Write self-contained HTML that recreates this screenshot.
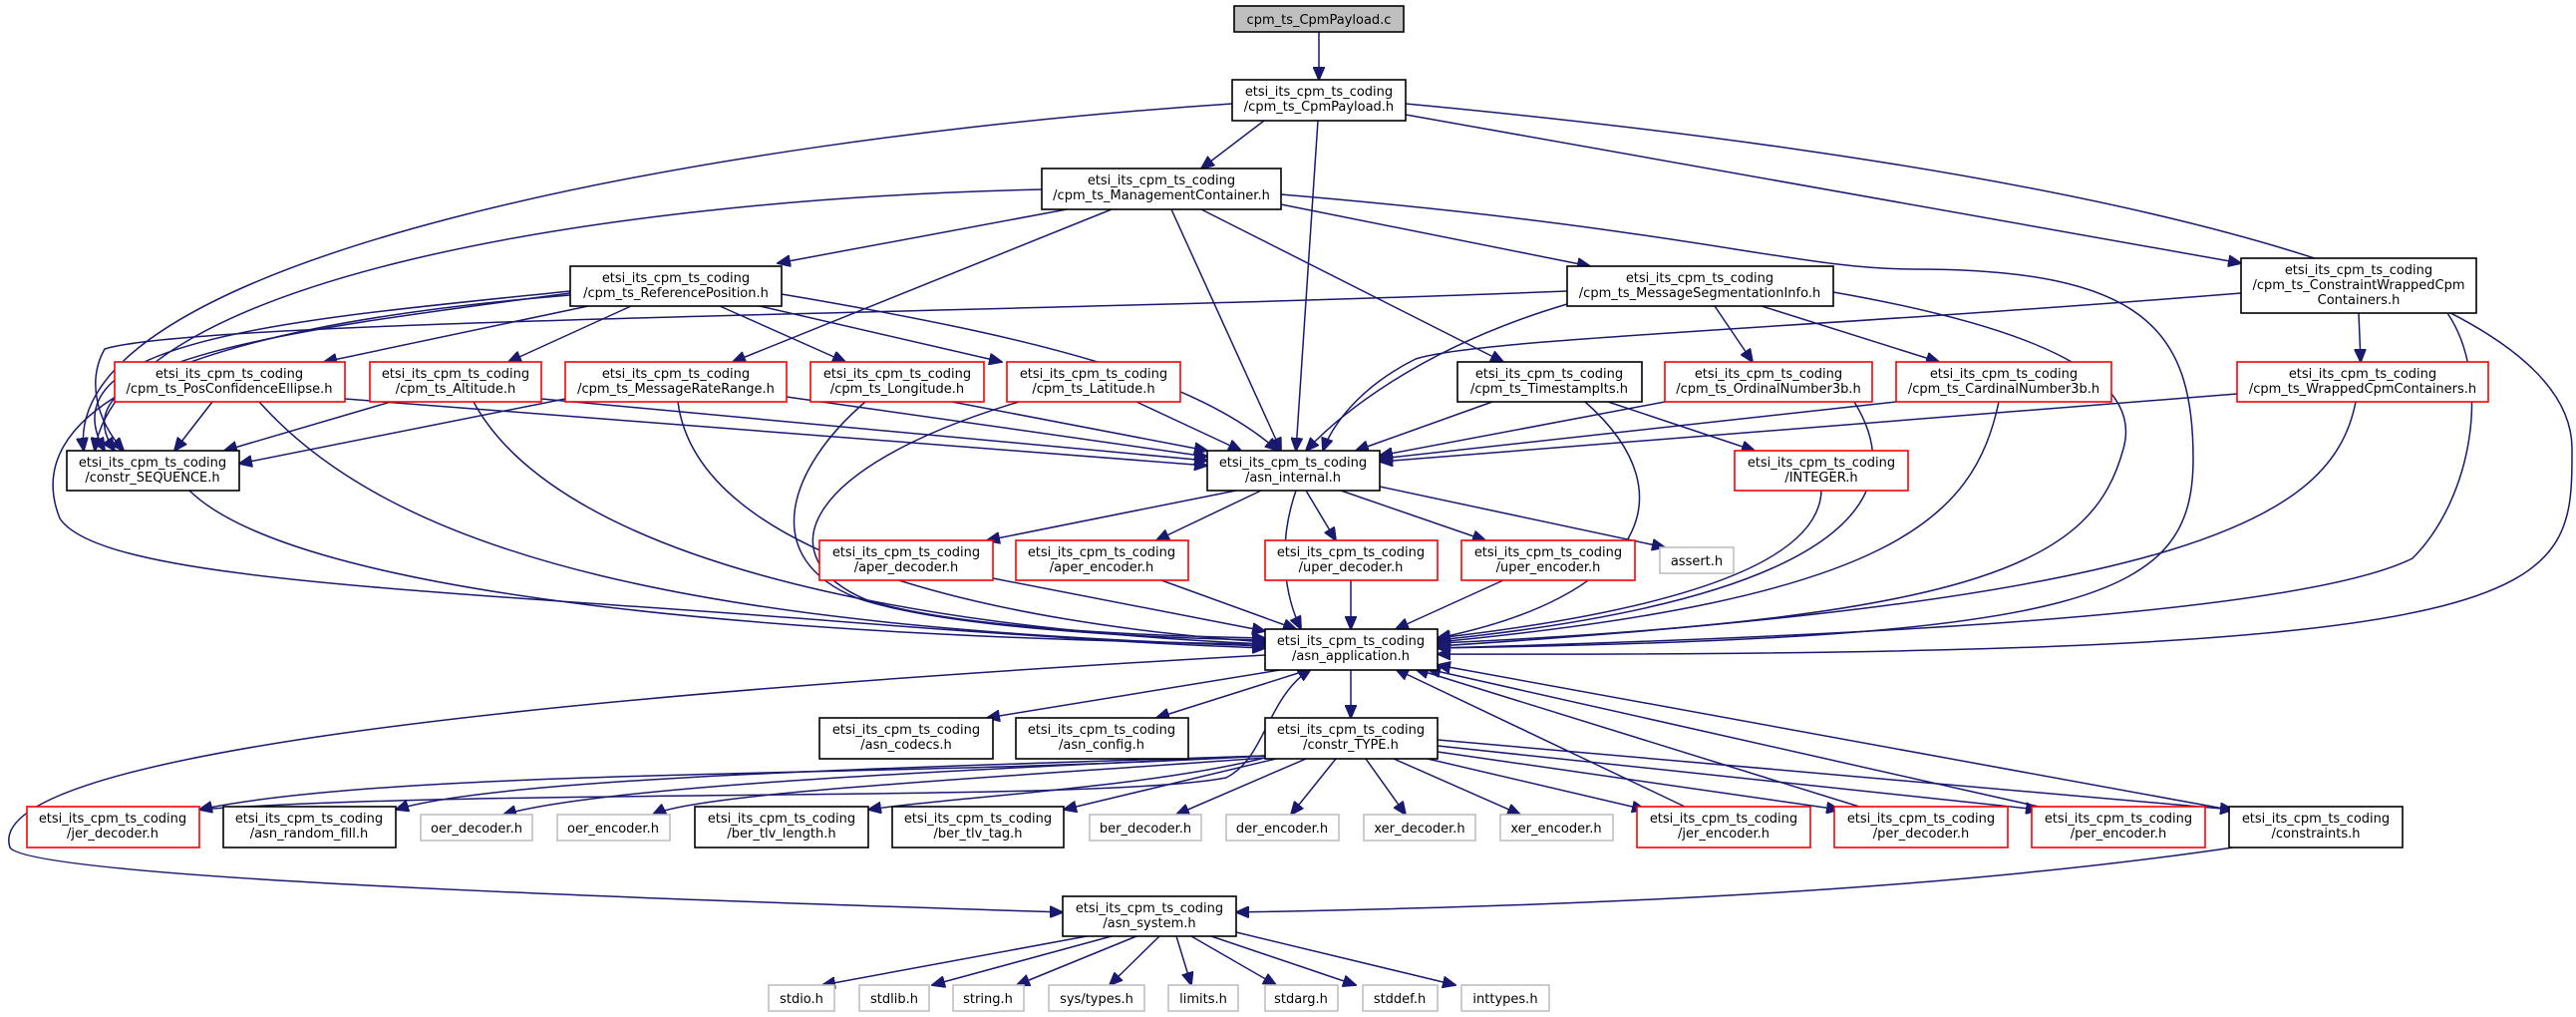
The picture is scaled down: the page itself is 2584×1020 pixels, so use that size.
<!DOCTYPE html>
<html><head><meta charset="utf-8"><style>
html,body{margin:0;padding:0;background:#fff;}
svg{display:block;}
text{font-family:"DejaVu Sans","Liberation Sans",sans-serif;font-size:13px;fill:#000;text-anchor:middle;}
.e{fill:none;stroke:#191970;stroke-width:1.5;marker-end:url(#a);}
.n{fill:#fff;stroke:#000;stroke-width:1.6;}
.r{fill:#fff;stroke:#ff0000;stroke-width:1.6;}
.g{fill:#fff;stroke:#bfbfbf;stroke-width:1.6;}
</style></head><body>
<svg width="2584" height="1020" viewBox="0 0 2584 1020" xmlns="http://www.w3.org/2000/svg">
<defs><marker id="a" markerUnits="userSpaceOnUse" markerWidth="14" markerHeight="12" refX="13" refY="6" orient="auto"><path d="M0,0 L14,6 L0,12 Z" fill="#191970" stroke="#191970"/></marker></defs>
<g>
<path class="e" d="M1323,32 L1323,80"/>
<path class="e" d="M1236,104 C700,140 60,260 84,452"/>
<path class="e" d="M1410,104 C1900,150 2580,250 2580,450 C2580,600 2580,660 1442,656"/>
<path class="e" d="M1410,115 L2248,264"/>
<path class="e" d="M1322,121 L1300,452"/>
<path class="e" d="M1268,121 L1205,169"/>
<path class="e" d="M1045,190 C600,200 120,280 95,452"/>
<path class="e" d="M1070,210 L780,264"/>
<path class="e" d="M1115,210 L735,363"/>
<path class="e" d="M1175,210 L1285,452"/>
<path class="e" d="M1205,210 L1508,363"/>
<path class="e" d="M1285,205 L1595,267"/>
<path class="e" d="M1285,195 C1700,230 1800,270 1920,270 C2150,270 2200,330 2200,460 C2200,600 2100,640 1442,650"/>
<path class="e" d="M572,292 C300,320 40,340 105,452"/>
<path class="e" d="M572,294 C300,330 50,360 115,452"/>
<path class="e" d="M572,296 C150,330 20,420 60,520 C100,580 400,590 800,620 C1000,636 1150,646 1269,650"/>
<path class="e" d="M590,307 L325,363"/>
<path class="e" d="M633,307 L510,363"/>
<path class="e" d="M722,307 L848,363"/>
<path class="e" d="M762,307 L1005,363"/>
<path class="e" d="M784,295 C1050,340 1200,380 1282,452"/>
<path class="e" d="M1572,292 C1000,315 200,320 105,350 C88,380 95,420 124,452"/>
<path class="e" d="M1572,305 C1420,350 1340,420 1310,452"/>
<path class="e" d="M1720,307 L1758,363"/>
<path class="e" d="M1767,307 L1945,363"/>
<path class="e" d="M1839,293 C2050,330 2150,380 2130,450 C2100,560 2000,620 1442,645"/>
<path class="e" d="M2248,294 C1800,330 1480,340 1420,360 C1360,390 1335,430 1327,452"/>
<path class="e" d="M2366,314 L2368,363"/>
<path class="e" d="M2455,314 C2500,380 2480,500 2420,560 C2300,620 1800,640 1442,650"/>
<path class="e" d="M213,403 L175,452"/>
<path class="e" d="M392,403 L225,452"/>
<path class="e" d="M567,400 L240,465"/>
<path class="e" d="M346,400 L1211,467"/>
<path class="e" d="M543,400 L1211,462"/>
<path class="e" d="M789,398 L1211,458"/>
<path class="e" d="M955,403 L1211,452"/>
<path class="e" d="M1140,403 L1245,452"/>
<path class="e" d="M260,403 C400,560 700,630 1269,648"/>
<path class="e" d="M475,403 C560,560 900,630 1269,646"/>
<path class="e" d="M680,403 C700,560 1000,625 1269,644"/>
<path class="e" d="M868,403 C790,470 760,560 860,600 C950,630 1150,640 1269,642"/>
<path class="e" d="M1022,403 C800,470 770,560 870,602 C960,630 1150,638 1269,640"/>
<path class="e" d="M190,492 C300,600 800,640 1269,646"/>
<path class="e" d="M1497,403 L1360,452"/>
<path class="e" d="M1613,403 L1760,452"/>
<path class="e" d="M1670,403 L1384,457"/>
<path class="e" d="M1902,403 L1384,460"/>
<path class="e" d="M2244,395 L1384,463"/>
<path class="e" d="M1590,403 C1700,500 1640,600 1442,640"/>
<path class="e" d="M1860,403 C1920,500 1850,600 1442,642"/>
<path class="e" d="M2005,403 C1980,520 1900,600 1442,644"/>
<path class="e" d="M2363,403 C2340,520 2200,600 1442,648"/>
<path class="e" d="M1827,492 C1825,560 1700,610 1442,640"/>
<path class="e" d="M1240,492 L990,542"/>
<path class="e" d="M1265,492 L1160,542"/>
<path class="e" d="M1310,492 L1340,542"/>
<path class="e" d="M1345,492 L1490,542"/>
<path class="e" d="M1384,488 L1670,549"/>
<path class="e" d="M1300,492 C1280,550 1290,600 1305,631"/>
<path class="e" d="M996,580 L1269,633"/>
<path class="e" d="M1165,582 L1300,631"/>
<path class="e" d="M1355,582 L1355,631"/>
<path class="e" d="M1508,582 L1400,631"/>
<path class="e" d="M1290,671 L990,720"/>
<path class="e" d="M1315,671 L1160,720"/>
<path class="e" d="M1355,671 L1355,720"/>
<path class="e" d="M1269,657 C500,700 -20,760 10,850 C30,880 600,900 1066,915"/>
<path class="e" d="M1269,758 C900,780 400,770 200,812"/>
<path class="e" d="M1269,758 C900,770 500,780 397,812"/>
<path class="e" d="M1269,758 C900,775 600,790 505,817"/>
<path class="e" d="M1269,760 C1000,780 700,795 655,817"/>
<path class="e" d="M1269,760 C1150,790 950,800 871,812"/>
<path class="e" d="M1280,761 L1067,812"/>
<path class="e" d="M1310,761 L1180,817"/>
<path class="e" d="M1340,761 L1295,817"/>
<path class="e" d="M1370,761 L1410,817"/>
<path class="e" d="M1398,761 L1525,817"/>
<path class="e" d="M1432,761 L1650,812"/>
<path class="e" d="M1442,754 L1845,812"/>
<path class="e" d="M1442,748 L2045,812"/>
<path class="e" d="M1442,742 L2240,812"/>
<path class="e" d="M1690,809 L1400,671"/>
<path class="e" d="M1865,809 L1420,671"/>
<path class="e" d="M2045,809 L1432,671"/>
<path class="e" d="M2236,812 L1442,667"/>
<path class="e" d="M200,812 C500,790 1100,805 1230,780 C1270,760 1270,700 1315,671"/>
<path class="e" d="M2240,850 C1900,900 1500,910 1240,915"/>
<path class="e" d="M1090,939 L825,988"/>
<path class="e" d="M1115,939 L935,988"/>
<path class="e" d="M1140,939 L1020,988"/>
<path class="e" d="M1163,939 L1113,988"/>
<path class="e" d="M1180,939 L1195,988"/>
<path class="e" d="M1195,939 L1280,988"/>
<path class="e" d="M1215,939 L1360,988"/>
<path class="e" d="M1240,935 L1460,988"/>
</g>
<g>
<rect x="1238" y="6" width="170" height="26" fill="#bfbfbf" stroke="#000" stroke-width="1.6"/><text x="1323" y="24">cpm_ts_CpmPayload.c</text>
<rect class="n" x="1236" y="80" width="174" height="41"/><text x="1323" y="96">etsi_its_cpm_ts_coding</text><text x="1323" y="111">/cpm_ts_CpmPayload.h</text>
<rect class="n" x="1045" y="169" width="240" height="41"/><text x="1165" y="185">etsi_its_cpm_ts_coding</text><text x="1165" y="200">/cpm_ts_ManagementContainer.h</text>
<rect class="n" x="572" y="267" width="212" height="40"/><text x="678" y="283">etsi_its_cpm_ts_coding</text><text x="678" y="298">/cpm_ts_ReferencePosition.h</text>
<rect class="n" x="1572" y="267" width="267" height="40"/><text x="1705" y="283">etsi_its_cpm_ts_coding</text><text x="1705" y="298">/cpm_ts_MessageSegmentationInfo.h</text>
<rect class="n" x="2248" y="259" width="236" height="55"/><text x="2366" y="275">etsi_its_cpm_ts_coding</text><text x="2366" y="290">/cpm_ts_ConstraintWrappedCpm</text><text x="2366" y="305">Containers.h</text>
<rect class="r" x="115" y="363" width="231" height="40"/><text x="230" y="379">etsi_its_cpm_ts_coding</text><text x="230" y="394">/cpm_ts_PosConfidenceEllipse.h</text>
<rect class="r" x="371" y="363" width="172" height="40"/><text x="457" y="379">etsi_its_cpm_ts_coding</text><text x="457" y="394">/cpm_ts_Altitude.h</text>
<rect class="r" x="567" y="363" width="222" height="40"/><text x="678" y="379">etsi_its_cpm_ts_coding</text><text x="678" y="394">/cpm_ts_MessageRateRange.h</text>
<rect class="r" x="813" y="363" width="174" height="40"/><text x="900" y="379">etsi_its_cpm_ts_coding</text><text x="900" y="394">/cpm_ts_Longitude.h</text>
<rect class="r" x="1010" y="363" width="174" height="40"/><text x="1097" y="379">etsi_its_cpm_ts_coding</text><text x="1097" y="394">/cpm_ts_Latitude.h</text>
<rect class="n" x="1462" y="363" width="185" height="40"/><text x="1554" y="379">etsi_its_cpm_ts_coding</text><text x="1554" y="394">/cpm_ts_TimestampIts.h</text>
<rect class="r" x="1670" y="363" width="208" height="40"/><text x="1774" y="379">etsi_its_cpm_ts_coding</text><text x="1774" y="394">/cpm_ts_OrdinalNumber3b.h</text>
<rect class="r" x="1902" y="363" width="216" height="40"/><text x="2010" y="379">etsi_its_cpm_ts_coding</text><text x="2010" y="394">/cpm_ts_CardinalNumber3b.h</text>
<rect class="r" x="2244" y="363" width="252" height="40"/><text x="2370" y="379">etsi_its_cpm_ts_coding</text><text x="2370" y="394">/cpm_ts_WrappedCpmContainers.h</text>
<rect class="n" x="67" y="452" width="173" height="40"/><text x="153" y="468">etsi_its_cpm_ts_coding</text><text x="153" y="483">/constr_SEQUENCE.h</text>
<rect class="n" x="1211" y="452" width="173" height="40"/><text x="1297" y="468">etsi_its_cpm_ts_coding</text><text x="1297" y="483">/asn_internal.h</text>
<rect class="r" x="1740" y="452" width="174" height="40"/><text x="1827" y="468">etsi_its_cpm_ts_coding</text><text x="1827" y="483">/INTEGER.h</text>
<rect class="r" x="822" y="542" width="174" height="40"/><text x="909" y="558">etsi_its_cpm_ts_coding</text><text x="909" y="573">/aper_decoder.h</text>
<rect class="r" x="1019" y="542" width="173" height="40"/><text x="1105" y="558">etsi_its_cpm_ts_coding</text><text x="1105" y="573">/aper_encoder.h</text>
<rect class="r" x="1269" y="542" width="173" height="40"/><text x="1355" y="558">etsi_its_cpm_ts_coding</text><text x="1355" y="573">/uper_decoder.h</text>
<rect class="r" x="1466" y="542" width="174" height="40"/><text x="1553" y="558">etsi_its_cpm_ts_coding</text><text x="1553" y="573">/uper_encoder.h</text>
<rect class="g" x="1665" y="549" width="74" height="26"/><text x="1702" y="567">assert.h</text>
<rect class="n" x="1269" y="631" width="173" height="41"/><text x="1355" y="647">etsi_its_cpm_ts_coding</text><text x="1355" y="662">/asn_application.h</text>
<rect class="n" x="822" y="720" width="174" height="41"/><text x="909" y="736">etsi_its_cpm_ts_coding</text><text x="909" y="751">/asn_codecs.h</text>
<rect class="n" x="1019" y="720" width="173" height="41"/><text x="1105" y="736">etsi_its_cpm_ts_coding</text><text x="1105" y="751">/asn_config.h</text>
<rect class="n" x="1269" y="720" width="173" height="41"/><text x="1355" y="736">etsi_its_cpm_ts_coding</text><text x="1355" y="751">/constr_TYPE.h</text>
<rect class="r" x="27" y="809" width="173" height="41"/><text x="113" y="825">etsi_its_cpm_ts_coding</text><text x="113" y="840">/jer_decoder.h</text>
<rect class="n" x="224" y="809" width="173" height="41"/><text x="310" y="825">etsi_its_cpm_ts_coding</text><text x="310" y="840">/asn_random_fill.h</text>
<rect class="g" x="422" y="817" width="112" height="26"/><text x="478" y="835">oer_decoder.h</text>
<rect class="g" x="559" y="817" width="113" height="26"/><text x="615" y="835">oer_encoder.h</text>
<rect class="n" x="697" y="809" width="174" height="41"/><text x="784" y="825">etsi_its_cpm_ts_coding</text><text x="784" y="840">/ber_tlv_length.h</text>
<rect class="n" x="895" y="809" width="172" height="41"/><text x="981" y="825">etsi_its_cpm_ts_coding</text><text x="981" y="840">/ber_tlv_tag.h</text>
<rect class="g" x="1093" y="817" width="112" height="26"/><text x="1149" y="835">ber_decoder.h</text>
<rect class="g" x="1230" y="817" width="113" height="26"/><text x="1286" y="835">der_encoder.h</text>
<rect class="g" x="1368" y="817" width="112" height="26"/><text x="1424" y="835">xer_decoder.h</text>
<rect class="g" x="1505" y="817" width="113" height="26"/><text x="1561" y="835">xer_encoder.h</text>
<rect class="r" x="1642" y="809" width="174" height="41"/><text x="1729" y="825">etsi_its_cpm_ts_coding</text><text x="1729" y="840">/jer_encoder.h</text>
<rect class="r" x="1840" y="809" width="174" height="41"/><text x="1927" y="825">etsi_its_cpm_ts_coding</text><text x="1927" y="840">/per_decoder.h</text>
<rect class="r" x="2038" y="809" width="174" height="41"/><text x="2125" y="825">etsi_its_cpm_ts_coding</text><text x="2125" y="840">/per_encoder.h</text>
<rect class="n" x="2236" y="809" width="174" height="41"/><text x="2323" y="825">etsi_its_cpm_ts_coding</text><text x="2323" y="840">/constraints.h</text>
<rect class="n" x="1066" y="899" width="174" height="40"/><text x="1153" y="915">etsi_its_cpm_ts_coding</text><text x="1153" y="930">/asn_system.h</text>
<rect class="g" x="771" y="988" width="66" height="26"/><text x="804" y="1006">stdio.h</text>
<rect class="g" x="862" y="988" width="70" height="26"/><text x="897" y="1006">stdlib.h</text>
<rect class="g" x="956" y="988" width="71" height="26"/><text x="991" y="1006">string.h</text>
<rect class="g" x="1052" y="988" width="96" height="26"/><text x="1100" y="1006">sys/types.h</text>
<rect class="g" x="1172" y="988" width="70" height="26"/><text x="1207" y="1006">limits.h</text>
<rect class="g" x="1269" y="988" width="73" height="26"/><text x="1305" y="1006">stdarg.h</text>
<rect class="g" x="1367" y="988" width="75" height="26"/><text x="1404" y="1006">stddef.h</text>
<rect class="g" x="1466" y="988" width="88" height="26"/><text x="1510" y="1006">inttypes.h</text>
</g>
</svg>
</body></html>
